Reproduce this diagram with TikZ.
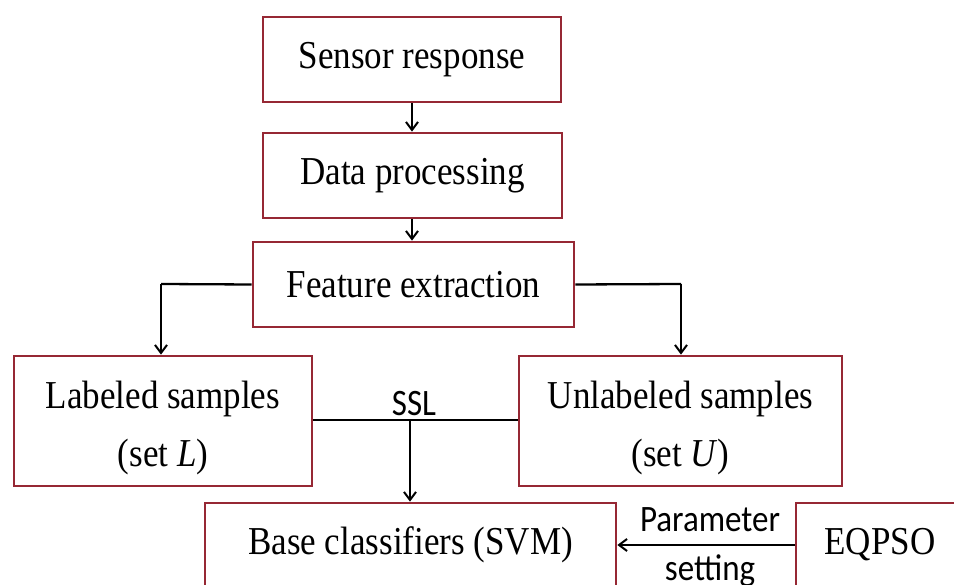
\documentclass[tikz,border=0pt]{standalone}
\usepackage{fontspec}
\usepackage{graphicx}
\setmainfont{Liberation Serif}
\newfontfamily\calib{Carlito}
\usetikzlibrary{arrows.meta}
\definecolor{boxred}{RGB}{150,40,52}
\newcommand{\vstr}[1]{\scalebox{1}[1.13]{#1}}
\newcommand{\lowr}[1]{\raisebox{-7pt}[\height][\depth]{#1}}
\tikzset{
  box/.style={draw=boxred, line width=2.8pt, fill=white, inner sep=0pt, align=center,
    font=\fontsize{35}{58}\selectfont},
  conn/.style={draw=black, line width=2.3pt},
  arr/.style={conn, -{Straight Barb[length=8pt,width=12pt,line width=2pt]}},
  lbl/.style={inner sep=0pt, font=\calib\fontsize{33}{40}\selectfont}
}
\begin{document}
\begin{tikzpicture}[x=1pt,y=-1pt]
\clip (0,0) rectangle (954,585);
\fill[white] (0,0) rectangle (954,585);
\node[box, minimum width=298pt, minimum height=85pt] (sensor) at (412,59.5) {\vstr{Sensor response}};
\node[box, minimum width=299pt, minimum height=85pt] (data) at (412.5,175.5) {\vstr{Data processing}};
\node[box, minimum width=321pt, minimum height=85pt] (feat) at (413.5,284.5) {\vstr{Feature extraction}};
\node[box, minimum width=298pt, minimum height=130pt] (lab) at (163,421) {\lowr{\vstr{Labeled samples}}\\\lowr{\vstr{(set \textit{L})}}};
\node[box, minimum width=323pt, minimum height=130pt] (unlab) at (680.5,421) {\lowr{\vstr{Unlabeled samples}}\\\lowr{\vstr{(set \textit{U})}}};
\node[box, minimum width=411pt, minimum height=84pt] (base) at (410.5,545) {\vstr{Base classifiers (SVM)}};
\node[box, minimum width=168pt, minimum height=84pt] (eqpso) at (880,545) {\vstr{EQPSO}};
\coordinate (lc) at (161,284);
\coordinate (rc) at (681,284);
\coordinate (ssl) at (410,420);
\draw[arr] (sensor.south -| 412,0) -- (data.north -| 412,0);
\draw[arr] (data.south -| 412,0) -- (feat.north -| 412,0);
\draw[conn] (feat.west) -- (lc);
\draw[arr] (lc) -- (lc |- lab.north);
\draw[conn] (feat.east) -- (rc);
\draw[arr] (rc) -- (rc |- unlab.north);
\draw[conn] (lab.east |- ssl) -- (unlab.west |- ssl);
\draw[arr] (ssl) -- (ssl |- base.north);
\node[lbl] (ssltext) at (414,404) {\vstr{SSL}};
\draw[arr] (eqpso.west) -- (base.east);
\node[lbl] (param) at (710,520) {\vstr{Parameter}};
\node[lbl] (setting) at (710,571) {\vstr{setting}};
\end{tikzpicture}
\end{document}
